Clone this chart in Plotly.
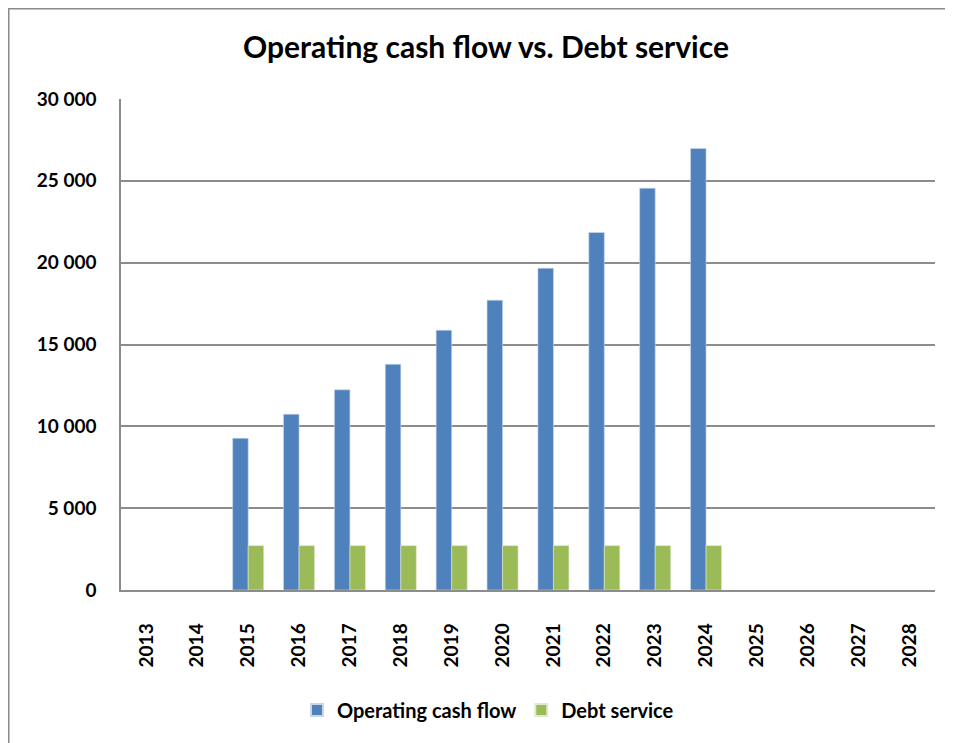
import plotly.graph_objects as go

years = [str(y) for y in range(2013, 2029)]
operating_cash_flow = [None, None, 9270, 10740, 12230, 13790, 15870, 17710, 19660, 21840, 24550, 26980,
                       None, None, None, None]
debt_service = [None, None, 2710, 2710, 2710, 2710, 2710, 2710, 2710, 2710, 2710, 2710,
                None, None, None, None]
y_ticks = [0, 5000, 10000, 15000, 20000, 25000, 30000]

BLUE = "#4F81BD"
GREEN = "#9BBB59"
GRID = "#8c8c8c"
FONT = "Lato, Calibri, Arial, sans-serif"

fig = go.Figure()
fig.add_trace(go.Bar(x=years, y=operating_cash_flow, name="Operating cash flow",
                     marker=dict(color=BLUE, line=dict(color="#c9d6ea", width=0.6))))
fig.add_trace(go.Bar(x=years, y=debt_service, name="Debt service",
                     marker=dict(color=GREEN, line=dict(color="#e1ead0", width=0.6))))

# the page body adds an 8px offset; work in figure coordinates
OFF = 8
W, H = 945, 735
L, R, T, B = 121 - OFF, 935 - OFF, 99 - OFF, 590 - OFF
pw, ph = R - L, B - T

def px_x(p):
    return (p - L) / pw

def px_y(p):
    return (B - p) / ph

fig.update_layout(
    width=W, height=H,
    margin=dict(l=L, r=W - R, t=T, b=H - B),
    paper_bgcolor="white", plot_bgcolor="white",
    separators=". ",
    barmode="group", bargap=0.39, bargroupgap=0.0,
    font=dict(family=FONT, color="black"),
    title=dict(text="<b>Operating cash flow vs. Debt service</b>",
               x=(486 - OFF) / W, xanchor="center", xref="container",
               y=1 - (47 - OFF) / H, yanchor="middle", yref="container",
               font=dict(size=30, family=FONT, color="black")),
    legend=dict(orientation="h", xref="container", yref="container",
                x=(488 - OFF) / W, xanchor="center", y=1 - (710 - OFF) / H, yanchor="middle",
                font=dict(size=20, family=FONT, color="black", weight="bold"),
                itemsizing="constant", traceorder="normal", itemwidth=30),
    showlegend=True,
)

fig.update_yaxes(range=[0, 30000], tickvals=y_ticks, tickformat=",d",
                 showgrid=True, gridcolor=GRID, gridwidth=1.5,
                 zeroline=False, showline=True, linecolor=GRID, linewidth=1.5,
                 ticks="", ticklabelstandoff=19,
                 tickfont=dict(size=19, family=FONT, color="black", weight="bold"),
                 fixedrange=True)
fig.update_xaxes(type="category", categoryorder="array", categoryarray=years,
                 tickangle=-90, showgrid=False, showline=True, linecolor=GRID, linewidth=1.5,
                 ticks="", ticklabelstandoff=24,
                 tickfont=dict(size=19, family=FONT, color="black", weight="bold"),
                 fixedrange=True)

# outer chart frame: only its top and left edges fall inside the window
fig.add_shape(type="line", xref="paper", yref="paper",
              x0=px_x(0), x1=px_x(W), y0=px_y(0.5), y1=px_y(0.5),
              line=dict(color="#8a8a8a", width=2), layer="above")
fig.add_shape(type="line", xref="paper", yref="paper",
              x0=px_x(0.5), x1=px_x(0.5), y0=px_y(0), y1=px_y(H),
              line=dict(color="#8a8a8a", width=2), layer="above")

fig.write_html("out.html")
